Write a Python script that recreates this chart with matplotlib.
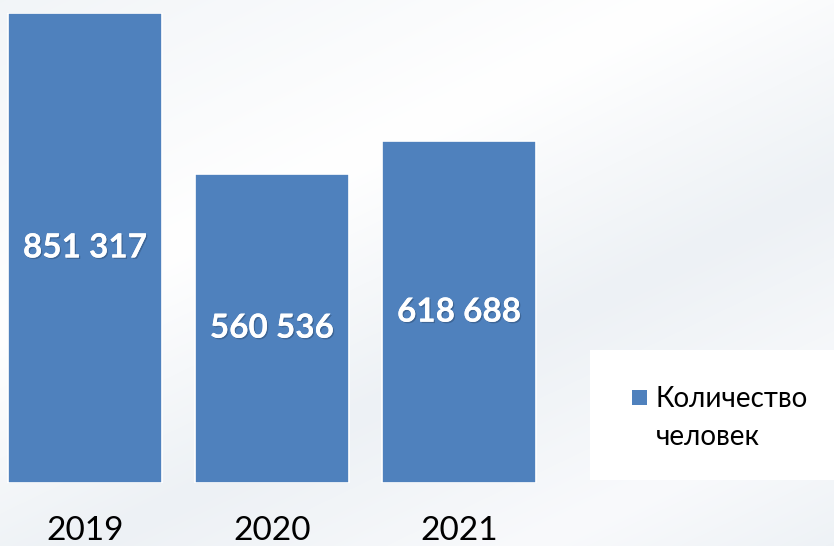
import numpy as np
import matplotlib
matplotlib.use("Agg")
import matplotlib.pyplot as plt
import matplotlib.patheffects as pe
from matplotlib.colors import LinearSegmentedColormap

years = ["2019", "2020", "2021"]
people = [851317, 560536, 618688]
value_labels = ["851 317", "560 536", "618 688"]
series_name_lines = ["Количество", "человек"]

W, H, DPI = 834, 546, 100
BAR_COLOR = "#4f81bd"
FONT = "Lato"

fig = plt.figure(figsize=(W / DPI, H / DPI), dpi=DPI)

# soft diagonal background gradient
bg = fig.add_axes([0, 0, 1, 1], zorder=0)
bg.set_axis_off()
yy, xx = np.mgrid[0:H, 0:W]
t = (xx / W) * 0.55 + (yy / H) * 0.75
cmap = LinearSegmentedColormap.from_list(
    "bg",
    [(0.0, "#f2f5f8"), (0.35, "#ffffff"), (0.62, "#edf1f5"),
     (0.85, "#f9fafc"), (1.0, "#eef2f6")],
)
bg.imshow(t / t.max(), cmap=cmap, aspect="auto", extent=[0, 1, 0, 1],
          vmin=0, vmax=1, origin="upper")
bg.set_xlim(0, 1)
bg.set_ylim(0, 1)

# plotting area in pixel coordinates
left_px, right_px = 0, 570
bottom_px, top_px = 483, 13
ax = fig.add_axes([left_px / W, 1 - bottom_px / H,
                   (right_px - left_px) / W, (bottom_px - top_px) / H], zorder=1)
ax.patch.set_alpha(0)
spacing = 187.0
first_center = 85.0
x = np.arange(len(years))
ax.set_xlim((left_px - first_center) / spacing, (right_px - first_center) / spacing)
ax.set_ylim(0, max(people))

ax.bar(x, people, width=154 / spacing, color=BAR_COLOR,
       edgecolor="white", linewidth=1.2)

for xi, v, lab in zip(x, people, value_labels):
    ax.text(xi, v / 2, lab, ha="center", va="center", color="white",
            fontsize=24, fontweight="bold", family=FONT,
            path_effects=[pe.withSimplePatchShadow(offset=(1, -1), alpha=0.35,
                                                   shadow_rgbFace="#1f3550"),
                          pe.Normal()])

ax.set_xticks(x)
ax.set_xticklabels(years, fontsize=24, family=FONT, color="black")
ax.tick_params(axis="x", length=0, pad=24)
for s in ax.spines.values():
    s.set_visible(False)
ax.set_yticks([])

# legend box
lg = fig.add_axes([0, 0, 1, 1], zorder=2)
lg.set_axis_off()
lg.set_xlim(0, W)
lg.set_ylim(H, 0)
lg.add_patch(plt.Rectangle((590, 350), 244, 130, facecolor="white",
                           edgecolor="none"))
lg.add_patch(plt.Rectangle((632, 390), 15, 15, facecolor=BAR_COLOR,
                           edgecolor="none"))
for i, line in enumerate(series_name_lines):
    lg.text(656, 407 + 38 * i, line, ha="left", va="baseline", fontsize=20,
            family=FONT, color="black")

fig.savefig("out.png", dpi=DPI)
